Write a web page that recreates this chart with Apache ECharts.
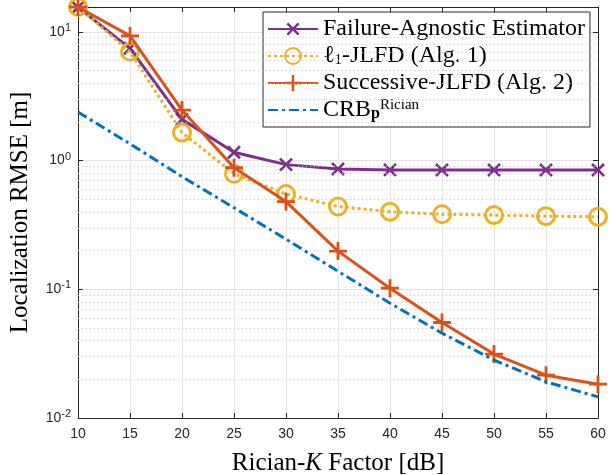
<!DOCTYPE html>
<html>
<head>
<meta charset="utf-8">
<script src="https://cdn.jsdelivr.net/npm/echarts@6/dist/echarts.min.js"></script>
<style>html,body{margin:0;padding:0;background:#fff;}#c{width:610px;height:475px;}</style>
</head>
<body>
<div id="c"></div>
<script>
const kFactor = [10, 15, 20, 25, 30, 35, 40, 45, 50, 55, 60];
const failureAgnostic = [15.5, 7.45, 2.09, 1.16, 0.93, 0.86, 0.846, 0.845, 0.845, 0.845, 0.845];
const l1JLFD = [15.6, 7.0, 1.65, 0.79, 0.55, 0.44, 0.40, 0.383, 0.377, 0.370, 0.366];
const successiveJLFD = [15.6, 9.3, 2.47, 0.88, 0.48, 0.198, 0.102, 0.0552, 0.0314, 0.0215, 0.0183];
const crbRician = [2.38, 1.35, 0.75, 0.43, 0.245, 0.138, 0.078, 0.0456, 0.0282, 0.0191, 0.0146];
const yMin = 0.01, yMax = 15.6;
const xTicks = [10, 60, 5];

const serif = '"Liberation Serif", "DejaVu Serif", serif';
const sans = '"Liberation Sans", Arial, sans-serif';
const axisCol = '#262626';

const minorVals = [];
for (let e = -2; e <= 1; e++) {
  for (let m = 2; m <= 9; m++) {
    const v = m * Math.pow(10, e);
    if (v < yMax) minorVals.push({ yAxis: v });
  }
}

const plusPath = 'path://M-1.4,-9L1.4,-9L1.4,-1.4L9,-1.4L9,1.4L1.4,1.4L1.4,9L-1.4,9L-1.4,1.4L-9,1.4L-9,-1.4L-1.4,-1.4Z';

function pairs(vals) { return kFactor.map((k, i) => [k, vals[i]]); }

const names = ['Failure-Agnostic Estimator', 'l1-JLFD (Alg. 1)', 'Successive-JLFD (Alg. 2)', 'CRB'];
const legendFmt = {
  'Failure-Agnostic Estimator': 'Failure-Agnostic Estimator',
  'l1-JLFD (Alg. 1)': 'ℓ{sub|1}-JLFD (Alg. 1)',
  'Successive-JLFD (Alg. 2)': 'Successive-JLFD (Alg. 2)',
  'CRB': 'CRB{subb|p}{sup|Rician}'
};

function powLabel(v) {
  const e = Math.log10(v);
  if (Math.abs(e - Math.round(e)) > 1e-6) return '';
  return '10{sup|' + Math.round(e) + '}';
}

const chart = echarts.init(document.getElementById('c'), null, { renderer: 'canvas' });
chart.setOption({
  animation: false,
  backgroundColor: '#fff',
  grid: { left: 78, right: 12, top: 7, bottom: 57, outerBoundsMode: 'none', containLabel: false },
  legend: {
    data: [names[0], names[1], names[2],
      { name: names[3], itemStyle: { color: 'rgba(0,0,0,0)', borderColor: 'rgba(0,0,0,0)', borderWidth: 0 } }],
    orient: 'vertical',
    left: 263, top: 12,
    itemWidth: 50, itemHeight: 20, itemGap: 3,
    padding: [5, 5, 5, 4],
    backgroundColor: '#fff',
    borderColor: axisCol, borderWidth: 1,
    formatter: n => legendFmt[n],
    textStyle: {
      fontFamily: serif, fontSize: 24, color: '#000', lineHeight: 24,
      rich: {
        sub: { fontFamily: serif, fontSize: 15, verticalAlign: 'bottom', lineHeight: 14 },
        subb: { fontFamily: serif, fontSize: 16, fontWeight: 'bold', verticalAlign: 'bottom', lineHeight: 14 },
        sup: { fontFamily: serif, fontSize: 15, verticalAlign: 'top', lineHeight: 14 }
      }
    }
  },
  xAxis: [{
    type: 'value', min: xTicks[0], max: xTicks[1], interval: xTicks[2],
    name: 'Rician-{it|K} Factor [dB]', nameLocation: 'middle', nameGap: 33,
    nameTextStyle: { fontFamily: serif, fontSize: 25, color: '#000',
      rich: { it: { fontFamily: serif, fontSize: 25, fontStyle: 'italic', color: '#000' } } },
    axisLine: { lineStyle: { color: axisCol, width: 1 } },
    axisTick: { inside: true, length: 5, lineStyle: { color: axisCol } },
    axisLabel: { fontFamily: sans, fontSize: 14, color: axisCol, margin: 9 },
    splitLine: { show: true, lineStyle: { color: '#e3e3e3', width: 1 } }
  }, {
    type: 'value', position: 'top', min: xTicks[0], max: xTicks[1], interval: xTicks[2],
    axisLine: { show: true, lineStyle: { color: axisCol, width: 1 } },
    axisTick: { show: true, inside: true, length: 5, lineStyle: { color: axisCol } },
    axisLabel: { show: false }, splitLine: { show: false }
  }],
  yAxis: [{
    type: 'log', logBase: 10, min: yMin, max: yMax, interval: 1,
    name: 'Localization RMSE [m]', nameLocation: 'middle', nameGap: 45,
    nameTextStyle: { fontFamily: serif, fontSize: 25, color: '#000' },
    axisLine: { show: true, lineStyle: { color: axisCol, width: 1 } },
    axisTick: { show: true, inside: true, length: 5, lineStyle: { color: axisCol } },
    axisLabel: {
      fontFamily: sans, fontSize: 14, color: axisCol, margin: 7,
      formatter: powLabel,
      rich: { sup: { fontFamily: sans, fontSize: 11, verticalAlign: 'top', color: axisCol, padding: [0, 0, 8, 0] } }
    },
    splitLine: { show: true, lineStyle: { color: '#e3e3e3', width: 1 } }
  }, {
    type: 'log', logBase: 10, min: yMin, max: yMax, interval: 1, position: 'right',
    axisLine: { show: true, lineStyle: { color: axisCol, width: 1 } },
    axisTick: { show: true, inside: true, length: 5, lineStyle: { color: axisCol } },
    axisLabel: { show: false }, splitLine: { show: false }
  }],
  series: [
    {
      name: 'minor', type: 'line', data: [], z: 1, silent: true,
      markLine: {
        silent: true, symbol: ['none', 'none'], animation: false,
        label: { show: false },
        lineStyle: { color: '#c4c4c4', width: 1, type: [1, 3] },
        data: minorVals
      }
    },
    {
      name: names[0], type: 'line', data: pairs(failureAgnostic),
      symbol: plusPath, symbolSize: 17, symbolRotate: 45,
      itemStyle: { color: '#7E2F8E' },
      lineStyle: { color: '#7E2F8E', width: 3 }, z: 3
    },
    {
      name: names[1], type: 'line', data: pairs(l1JLFD),
      symbol: 'circle', symbolSize: 17,
      itemStyle: { color: 'rgba(0,0,0,0)', borderColor: '#EDB120', borderWidth: 3 },
      lineStyle: { color: '#EDB120', width: 3, type: [3, 3] }, z: 4
    },
    {
      name: names[2], type: 'line', data: pairs(successiveJLFD),
      symbol: plusPath, symbolSize: 18,
      itemStyle: { color: '#D95319' },
      lineStyle: { color: '#D95319', width: 3 }, z: 5
    },
    {
      name: names[3], type: 'line', data: pairs(crbRician),
      symbol: 'none',
      itemStyle: { color: '#0072BD' },
      lineStyle: { color: '#0072BD', width: 3, type: [10, 4, 3, 4] }, z: 6
    }
  ]
});
</script>
</body>
</html>
